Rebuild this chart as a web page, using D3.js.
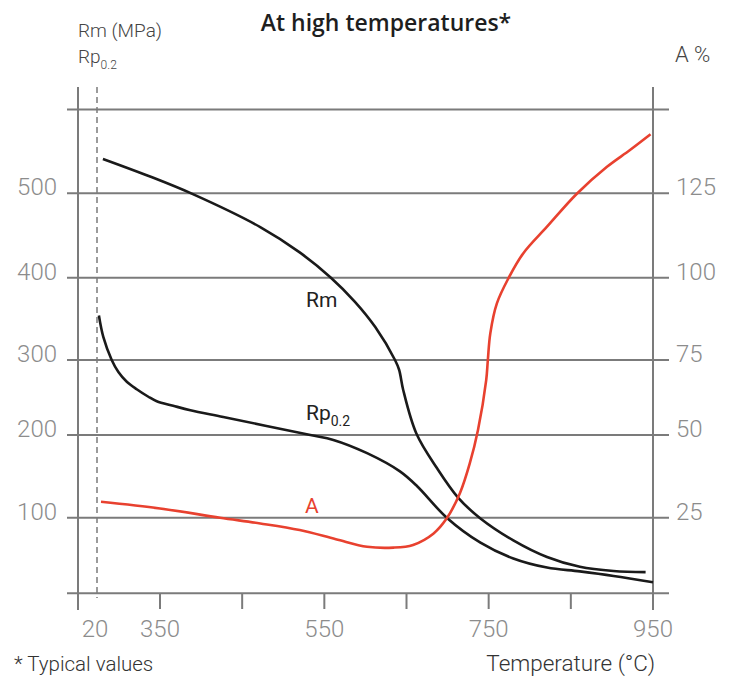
<!DOCTYPE html>
<html>
<head>
<meta charset="utf-8">
<script src="https://cdn.jsdelivr.net/npm/d3@7"></script>
<style>
  html, body { margin: 0; padding: 0; background: #fff; }
  svg { display: block; }
</style>
</head>
<body>
<svg id="chart" width="732" height="677"></svg>
<script>
// ---- data ----
const tempTicks = [350, 450, 550, 650, 750, 850, 950];
const tempLabels = [20, 350, 550, 750, 950];
const mpaGrid = [0, 100, 200, 300, 400, 500, 600];
const mpaLabels = [100, 200, 300, 400, 500];
const pctGrid = [0, 25, 50, 75, 100, 125, 150];
const pctLabels = [25, 50, 75, 100, 125];

const rmTemp  = [51, 298, 390, 472, 520, 558, 587, 612, 636, 641, 646, 662, 687, 713, 740, 780, 821, 861, 902, 941];
const rmValue = [541, 520, 499, 460, 430, 400, 371, 340, 300, 287, 260, 202, 160, 124, 99, 70, 48, 35, 29.5, 28];

const rpTemp  = [30, 53, 97, 132, 176, 228, 289, 333, 366, 387, 427, 533, 561, 602, 642, 663, 699, 740, 780, 821, 861, 902, 950];
const rpValue = [354, 328, 300, 284, 271, 261, 251, 245, 239, 233, 224, 200, 194, 178, 156, 138, 100, 67, 46, 34, 29, 23, 14.5];

const aTemp  = [41, 350, 423, 472, 520, 564, 602, 634, 658, 683, 699, 715, 727, 737, 747, 749, 752, 760, 774, 792, 821, 857, 894, 922, 947];
const aValue = [29.8, 27.8, 25, 23.1, 20.9, 17.9, 15.4, 15.1, 16, 19.8, 24.8, 32.4, 41.4, 51.7, 68.3, 75, 83.1, 92.2, 99.8, 107.2, 115.1, 124.8, 132.9, 137.9, 142.6];

// ---- layout ----
const svg = d3.select("#chart");
const gridColor = "#7b7b7b";
const labelColor = "#8c8c8c";
const red = "#e8412f";
const baseFont = "Roboto, sans-serif";

const axisLeftX = 78, axisRightX = 653;
const gridRows = [593.3, 517.7, 435, 360, 277.7, 193.3, 109.5];

const x = d3.scaleLinear().domain([20, 350, 950]).range([97, 160, 653]);
const yL = d3.scaleLinear().domain(mpaGrid).range(gridRows);
const yR = d3.scaleLinear().domain(pctGrid).range(gridRows);

// gridlines
svg.append("g").selectAll("line").data(mpaGrid).join("line")
  .attr("x1", 67).attr("x2", 669)
  .attr("y1", d => yL(d)).attr("y2", d => yL(d))
  .attr("stroke", gridColor).attr("stroke-width", 2);

// vertical axis lines
[axisLeftX, axisRightX].forEach(px => {
  svg.append("line").attr("x1", px).attr("x2", px).attr("y1", 87).attr("y2", 610)
    .attr("stroke", gridColor).attr("stroke-width", 2);
});

// x ticks
svg.append("g").selectAll("line").data(tempTicks.filter(d => d < 950)).join("line")
  .attr("x1", d => x(d)).attr("x2", d => x(d))
  .attr("y1", yL(0)).attr("y2", 609)
  .attr("stroke", gridColor).attr("stroke-width", 2);

// dashed 20 line
svg.append("line").attr("x1", x(20)).attr("x2", x(20)).attr("y1", 87).attr("y2", 598)
  .attr("stroke", gridColor).attr("stroke-width", 1.5).attr("stroke-dasharray", "6,4");

function txt(sel) { return sel.style("font-family", baseFont); }

// x labels
txt(svg.append("g").selectAll("text").data(tempLabels).join("text"))
  .attr("x", d => x(d) - (d === 20 ? 2 : 0)).attr("y", 637)
  .attr("text-anchor", "middle")
  .attr("font-size", 24).attr("font-weight", 300).attr("fill", labelColor)
  .text(d => d);

// left labels
txt(svg.append("g").selectAll("text").data(mpaLabels).join("text"))
  .attr("x", 57).attr("y", d => yL(d) + 2)
  .attr("text-anchor", "end")
  .attr("font-size", 24).attr("font-weight", 300).attr("fill", labelColor)
  .text(d => d);

// right labels
txt(svg.append("g").selectAll("text").data(pctLabels).join("text"))
  .attr("x", 676).attr("y", d => yR(d) + 2)
  .attr("text-anchor", "start")
  .attr("font-size", 24).attr("font-weight", 300).attr("fill", labelColor)
  .text(d => d);

// curves
const curve = d3.curveCatmullRom.alpha(0.5);
const line = (xs, ys, yScale) => d3.line()
  .x(i => x(xs[i])).y(i => yScale(ys[i]))
  .curve(curve)(d3.range(xs.length));

svg.append("path").attr("d", line(rmTemp, rmValue, yL))
  .attr("fill", "none").attr("stroke", "#1a1a1a").attr("stroke-width", 2.6);
svg.append("path").attr("d", line(rpTemp, rpValue, yL))
  .attr("fill", "none").attr("stroke", "#1a1a1a").attr("stroke-width", 2.6);
svg.append("path").attr("d", line(aTemp, aValue, yR))
  .attr("fill", "none").attr("stroke", red).attr("stroke-width", 2.6);

// curve labels
txt(svg.append("text")).attr("x", 306).attr("y", 307).attr("font-size", 21).attr("fill", "#222").text("Rm");
const rpLab = txt(svg.append("text")).attr("x", 306).attr("y", 420).attr("font-size", 21).attr("fill", "#222");
rpLab.append("tspan").text("Rp");
rpLab.append("tspan").attr("font-size", 14).attr("dy", 6).text("0.2");
txt(svg.append("text")).attr("x", 305).attr("y", 513).attr("font-size", 21).attr("fill", red).text("A");

// title
svg.append("text").attr("x", 386).attr("y", 31).attr("text-anchor", "middle")
  .style("font-family", "'Open Sans', sans-serif")
  .attr("font-size", 23).attr("font-weight", 600).attr("fill", "#1e1e1e")
  .text("At high temperatures*");

// axis titles
txt(svg.append("text")).attr("x", 78).attr("y", 37).attr("font-size", 19).attr("font-weight", 300).attr("fill", "#444")
  .text("Rm (MPa)");
const rpT = txt(svg.append("text")).attr("x", 78).attr("y", 63).attr("font-size", 19).attr("font-weight", 300).attr("fill", "#444");
rpT.append("tspan").text("Rp");
rpT.append("tspan").attr("font-size", 12).attr("dy", 6).text("0.2");
txt(svg.append("text")).attr("x", 675).attr("y", 62).attr("font-size", 22).attr("font-weight", 300).attr("fill", "#444")
  .text("A %");

txt(svg.append("text")).attr("x", 14).attr("y", 671).attr("font-size", 20.5).attr("font-weight", 300).attr("fill", "#333")
  .text("* Typical values");
txt(svg.append("text")).attr("x", 655).attr("y", 671).attr("text-anchor", "end").attr("font-size", 22.5).attr("font-weight", 300).attr("fill", "#333")
  .text("Temperature (°C)");
</script>
</body>
</html>
